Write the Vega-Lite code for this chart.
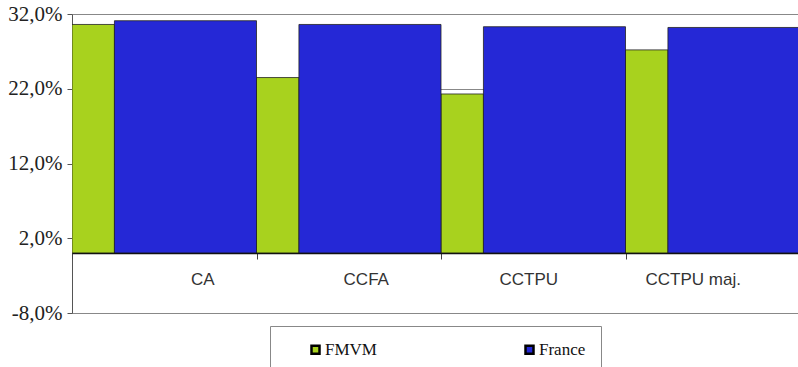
{
  "$schema": "https://vega.github.io/schema/vega-lite/v6.json",
  "width": 726,
  "height": 299,
  "autosize": "none",
  "padding": {"left": 72, "top": 14, "right": 0, "bottom": 54},
  "background": "white",
  "title": {
    "text": "FMVM et de l'ensemble des EPCI de chaque catégorie",
    "font": "Liberation Sans",
    "fontSize": 13,
    "fontWeight": "normal",
    "color": "#444",
    "anchor": "middle",
    "baseline": "alphabetic",
    "offset": 10
  },
  "data": {
    "values": [
      {"cat": "CA", "series": "FMVM", "value": 0.306},
      {"cat": "CA", "series": "France", "value": 0.311},
      {"cat": "CCFA", "series": "FMVM", "value": 0.235},
      {"cat": "CCFA", "series": "France", "value": 0.306},
      {"cat": "CCTPU", "series": "FMVM", "value": 0.213},
      {"cat": "CCTPU", "series": "France", "value": 0.303},
      {"cat": "CCTPU maj.", "series": "FMVM", "value": 0.272},
      {"cat": "CCTPU maj.", "series": "France", "value": 0.302}
    ]
  },
  "encoding": {
    "y": {
      "field": "value",
      "type": "quantitative",
      "scale": {"domain": [-0.08, 0.32], "nice": false, "zero": false},
      "axis": {
        "title": null,
        "values": [-0.08, 0.02, 0.12, 0.22, 0.32],
        "labelExpr": "replace(replace(format(datum.value * 100, '.1f'), '.', ','), '\u2212', '-') + '%'",
        "labelFont": "'Liberation Serif', 'Times New Roman', 'DejaVu Serif', serif",
        "labelFontSize": 21,
        "labelColor": "#222",
        "labelPadding": 5,
        "tickSize": 5,
        "tickColor": "#555",
        "domain": false,
        "grid": true,
        "gridColor": "#888",
        "gridWidth": 1
      }
    },
    "y2": {"datum": 0},
    "color": {
      "field": "series",
      "type": "nominal",
      "scale": {"domain": ["FMVM", "France"], "range": ["#A8D21E", "#2528D6"]},
      "legend": {
        "title": null,
        "orient": "none",
        "legendX": 198,
        "legendY": 312,
        "direction": "horizontal",
        "symbolType": "square",
        "symbolSize": 64,
        "symbolStrokeColor": "#000",
        "symbolStrokeWidth": 2.5,
        "symbolOffset": 22,
        "labelFont": "'Liberation Serif', 'Times New Roman', 'DejaVu Serif', serif",
        "labelFontSize": 17,
        "labelColor": "#111",
        "labelOffset": 1,
        "columnPadding": 122,
        "padding": 15,
        "fillColor": "white",
        "strokeColor": "#888"
      }
    }
  },
  "layer": [
    {
      "transform": [{"filter": "datum.series == 'FMVM'"}],
      "mark": {"type": "bar", "stroke": "#222", "strokeWidth": 0.8, "clip": true},
      "encoding": {
        "x": {
          "field": "cat",
          "type": "nominal",
          "bandPosition": 0,
          "sort": ["CA", "CCFA", "CCTPU", "CCTPU maj."],
          "scale": {"range": [0, 738], "paddingInner": 0, "paddingOuter": 0},
          "axis": {
            "title": null,
            "orient": "bottom",
            "offset": -60,
            "labelAngle": 0,
            "tickBand": "extent",
            "labelFont": "Liberation Sans",
            "labelFontSize": 17,
            "labelColor": "#333",
            "labelPadding": 12,
            "labelOffset": {"condition": [
              {"test": "datum.value == 'CA'", "value": 38},
              {"test": "datum.value == 'CCFA'", "value": 17},
              {"test": "datum.value == 'CCTPU'", "value": -5}
            ], "value": -25},
            "tickSize": 6,
            "tickColor": "#444",
            "domainColor": "#111",
            "domainWidth": 1.5,
            "grid": false,
            "zindex": 1
          }
        },
        "x2": {"field": "cat", "bandPosition": 0.23},
        "y": {"field": "value", "type": "quantitative"}
      }
    },
    {
      "transform": [{"filter": "datum.series == 'France'"}],
      "mark": {"type": "bar", "stroke": "#222", "strokeWidth": 0.8, "clip": true},
      "encoding": {
        "x": {
          "field": "cat",
          "type": "nominal",
          "bandPosition": 0.23,
          "sort": ["CA", "CCFA", "CCTPU", "CCTPU maj."]
        },
        "x2": {"field": "cat", "bandPosition": 1}
      }
    }
  ],
  "config": {
    "view": {"stroke": "#555", "strokeWidth": 1}
  }
}
